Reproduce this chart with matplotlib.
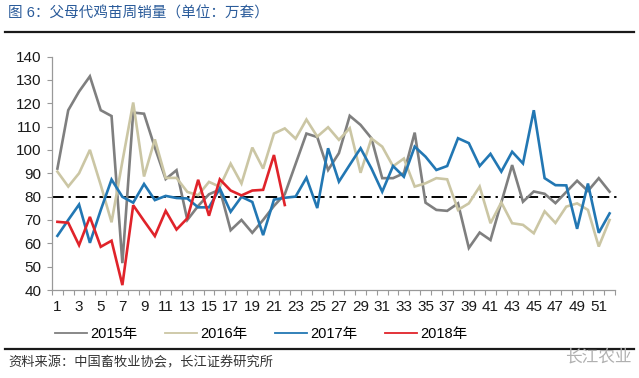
import matplotlib
matplotlib.use("Agg")
import matplotlib.pyplot as plt
from matplotlib.lines import Line2D
import numpy as np

plt.rcParams['font.family'] = ['Liberation Sans', 'Noto Sans CJK SC', 'DejaVu Sans']

weeks = list(range(1, 53))
y2015 = [92, 117, 125, 131.5, 117, 114.5, 51.5, 116, 115.5, 101, 87.5, 91.3, 70, 76, 81, 83,
         65.6, 70, 64.5, 70, 76, 81, 94, 107, 105.5, 91.4, 98.6, 114.6, 110.7, 105, 87.9, 87.9,
         90, 107.4, 77.4, 74.3, 73.9, 77.1, 58, 64.6, 61.4, 77.5, 93.5, 77.8, 82.2, 81.2, 77.2,
         82, 86.8, 82.4, 87.9, 82.1]
y2016 = [90.7, 84.3, 90, 100, 85, 69, 95, 120.3, 88.6, 104.5, 88, 88, 82, 80.6, 86.3, 84.2,
         94.1, 85.6, 101, 92, 107, 109.2, 104.8, 113, 105.7, 109.7, 104.3, 109.3, 90.2, 104.9,
         101.4, 93, 96.3, 84.3, 85.7, 87.9, 87.4, 74.3, 77.1, 84.3, 68.6, 77.5, 68.6, 67.9, 64.3,
         73.7, 68.7, 75.7, 77.1, 74.3, 58.6, 70]
y2017 = [63.2, 70, 76.6, 60.2, 74.2, 87.3, 79.9, 77.4, 85.4, 78.5, 80.3, 79.4, 79.2, 75.4, 75.4,
         83.5, 73.5, 79.9, 77.7, 63.5, 78.7, 79.5, 80, 88.1, 75.1, 100.7, 86.4, 93.6, 100.7, 92.1,
         82.1, 93.1, 88.5, 101.4, 97.1, 91.4, 93.1, 105, 102.9, 93.1, 98.3, 90.7, 99.2, 94.2, 117,
         87.9, 84.9, 84.8, 66.2, 85.6, 64.5, 72.8]
y2018 = [69.2, 68.8, 59.2, 71.3, 58.5, 61.1, 42.1, 76.3, 69.6, 63.1, 73.9, 65.9, 70.7, 87.2, 71.8,
         87.4, 82.6, 80.5, 82.6, 82.9, 97.8, 76.4]
ref_level = 80
series_names = ['2015年', '2016年', '2017年', '2018年']
colors = ['#7f7f7f', '#cbc6a4', '#2277b3', '#e0232a']
title = '图 6：父母代鸡苗周销量（单位：万套）'
source = '资料来源：中国畜牧业协会，长江证券研究所'

fig = plt.figure(figsize=(6.39, 3.78), dpi=100)
ax = fig.add_axes([52 / 639, 1 - 290 / 378, (615 - 52) / 639, (290 - 56.5) / 378])

lw = 1.9
for data, c, name in zip([y2015, y2016, y2017, y2018], colors, series_names):
    ax.plot(weeks[:len(data)], data, color=c, lw=lw, label=name, solid_joinstyle='miter')
ax.axhline(ref_level, color='black', lw=1.4, ls=(0, (6, 2.5, 1.2, 2.5)), xmax=1.01, clip_on=False, zorder=1)

ax.set_xlim(0.5, 52.5)
ax.set_ylim(40, 140)
ax.set_yticks(range(40, 141, 10))
ax.set_xticks(range(1, 52, 2))
ax.set_xticks(np.arange(0.5, 53, 1), minor=True)
ax.tick_params(axis='x', which='major', length=0, pad=7, labelsize=11, labelcolor='#1a1a1a')
ax.tick_params(axis='x', which='minor', length=3.5, color='#999999', width=0.8, direction='out')
ax.tick_params(axis='y', length=3.5, color='#999999', width=0.8, labelsize=11, labelcolor='#1a1a1a', pad=4)
for s in ['top', 'right']:
    ax.spines[s].set_visible(False)
for s in ['left', 'bottom']:
    ax.spines[s].set_color('#999999')
    ax.spines[s].set_linewidth(0.9)

handles = [Line2D([], [], color=c, lw=1.3) for c in colors]
fig.legend(handles, series_names, loc='center', bbox_to_anchor=(261 / 639, 1 - 334 / 378), ncol=4,
           frameon=False, handlelength=2.2, handletextpad=0.2, columnspacing=1.9, fontsize=10.5)

fig.text(8 / 639, 1 - 14 / 378, title, fontsize=10.5, color='#2a5b9a', va='center', ha='left')
fig.add_artist(Line2D([5 / 639, 634 / 639], [1 - 32 / 378] * 2, color='#1a1a1a', lw=1.6))
fig.add_artist(Line2D([5 / 639, 634 / 639], [1 - 349 / 378] * 2, color='#1a1a1a', lw=1.6))
fig.text(8 / 639, 1 - 363 / 378, source, fontsize=9.5, color='#333333', va='center', ha='left')
fig.text(632 / 639, 1 - 357 / 378, '长江农业', fontsize=12, color='#b0b0b0', va='center', ha='right')

fig.savefig('out.png', dpi=100)
